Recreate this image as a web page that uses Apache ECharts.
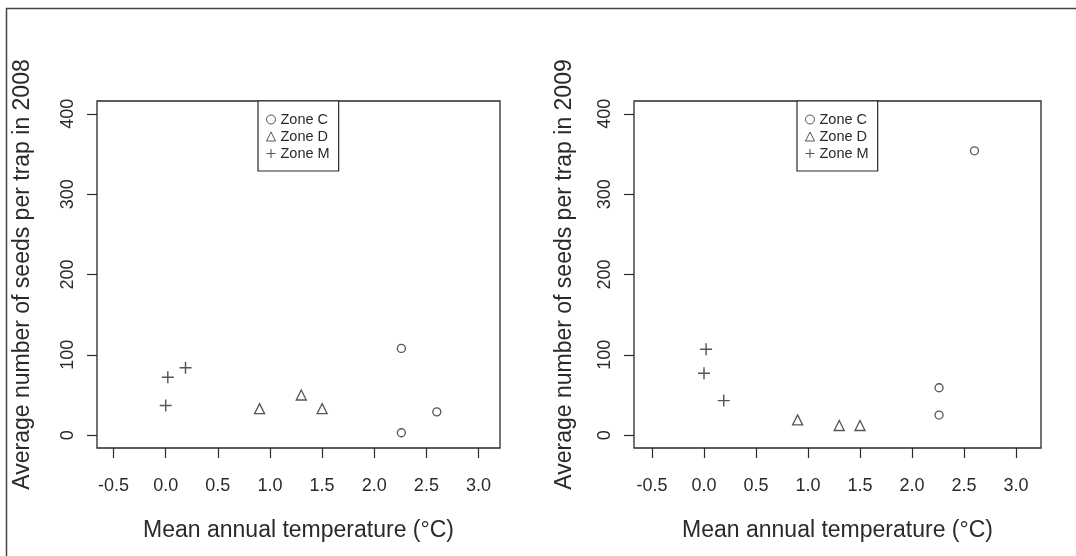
<!DOCTYPE html>
<html lang="en">
<head>
  <meta charset="UTF-8">
  <title>Seeds per trap vs temperature</title>
  <script src="https://cdn.jsdelivr.net/npm/echarts@6/dist/echarts.min.js"></script>
  <style>
    html, body { margin: 0; padding: 0; background: #fff; }
  </style>
</head>
<body>
<div id="main" style="width: 1076px;height: 556px;"></div>
<script>
  // values
  var zones = ['Zone C', 'Zone D', 'Zone M'];
  var tempC = [2.26, 2.26, 2.6];
  var tempD = [0.9, 1.3, 1.5];
  var tempM = [0.0, 0.02, 0.19];
  var seeds2008C = [108, 3, 29];
  var seeds2008D = [33, 50, 33];
  var seeds2008M = [37, 72, 84];
  var seeds2009C = [25, 59, 354];
  var seeds2009D = [19, 12, 12];
  var seeds2009M = [77, 107, 43];
  var xTicks = [-0.5, 0, 0.5, 1, 1.5, 2, 2.5, 3];
  var yTicks = [0, 100, 200, 300, 400];
  var yTitles = ['Average number of seeds per trap in 2008', 'Average number of seeds per trap in 2009'];
  var xTitle = 'Mean annual temperature (\u00b0C)';

  var ink = '#2a2a2a';
  var font = 'Liberation Sans, Arial, sans-serif';

  var symbols = {
    'Zone C': { symbol: 'circle', size: 8 },
    'Zone D': { symbol: 'triangle', size: 10 },
    'Zone M': { symbol: 'path://M44,0H56V44H100V56H56V100H44V56H0V44H44Z', size: 12 }
  };

  function pairs(xs, ys) {
    return xs.map(function (x, i) { return [x, ys[i]]; });
  }

  function makeSeries(name, xs, ys, idx) {
    var isPlus = name === 'Zone M';
    return {
      name: name,
      type: 'scatter',
      xAxisIndex: idx,
      yAxisIndex: idx,
      symbol: symbols[name].symbol,
      symbolSize: symbols[name].size,
      itemStyle: isPlus
        ? { color: ink, borderWidth: 0 }
        : { color: 'rgba(0,0,0,0)', borderColor: ink, borderWidth: 1.3 },
      emphasis: { disabled: true },
      data: pairs(xs, ys)
    };
  }

  function xAxis(idx, min, max) {
    return {
      type: 'value',
      gridIndex: idx,
      min: min,
      max: max,
      splitLine: { show: false },
      axisLine: { show: false, onZero: false },
      axisTick: { show: true, length: 10, lineStyle: { color: ink, width: 1.2 }, customValues: xTicks },
      axisLabel: {
        customValues: xTicks,
        margin: 29,
        color: ink,
        fontSize: 18,
        fontFamily: font,
        formatter: function (v) { return v.toFixed(1); }
      },
      name: xTitle,
      nameLocation: 'middle',
      nameGap: 71,
      nameTextStyle: { color: ink, fontSize: 23, fontFamily: font }
    };
  }

  function yAxis(idx, gap) {
    return {
      type: 'value',
      gridIndex: idx,
      min: -16,
      max: 416,
      splitLine: { show: false },
      axisLine: { show: false, onZero: false },
      axisTick: { show: true, length: 10, lineStyle: { color: ink, width: 1.2 }, customValues: yTicks },
      axisLabel: {
        customValues: yTicks,
        rotate: 90,
        margin: 20,
        color: ink,
        fontSize: 18,
        fontFamily: font
      },
      name: yTitles[idx],
      nameLocation: 'middle',
      nameRotate: 90,
      nameGap: gap,
      nameTextStyle: { color: ink, fontSize: 23, fontFamily: font }
    };
  }

  function legend(left) {
    return {
      data: zones,
      orient: 'vertical',
      left: left,
      top: 101,
      itemWidth: 9,
      itemHeight: 9,
      itemGap: 2,
      padding: [11, 9, 10, 8],
      borderColor: ink,
      borderWidth: 1.2,
      backgroundColor: '#fff',
      selectedMode: false,
      itemStyle: { borderWidth: 1 },
      textStyle: { color: ink, fontSize: 14.5, fontFamily: font, lineHeight: 14 }
    };
  }

  var myChart = echarts.init(document.getElementById('main'));
  myChart.setOption({
    backgroundColor: '#fff',
    animation: false,
    graphic: [{
      type: 'rect',
      shape: { x: 6.5, y: 8.5, width: 1200, height: 700 },
      style: { fill: 'none', stroke: '#444', lineWidth: 1.5 },
      silent: true
    }],
    grid: [
      { left: 97, top: 101, width: 403, height: 347, show: true, borderColor: ink, borderWidth: 1.3, backgroundColor: 'transparent' },
      { left: 634, top: 101, width: 407, height: 347, show: true, borderColor: ink, borderWidth: 1.3, backgroundColor: 'transparent' }
    ],
    xAxis: [xAxis(0, -0.659, 3.206), xAxis(1, -0.673, 3.240)],
    yAxis: [yAxis(0, 63), yAxis(1, 58)],
    legend: [legend(258), legend(797)],
    series: [
      makeSeries('Zone C', tempC, seeds2008C, 0),
      makeSeries('Zone D', tempD, seeds2008D, 0),
      makeSeries('Zone M', tempM, seeds2008M, 0),
      makeSeries('Zone C', tempC, seeds2009C, 1),
      makeSeries('Zone D', tempD, seeds2009D, 1),
      makeSeries('Zone M', tempM, seeds2009M, 1)
    ]
  });
</script>
</body>
</html>
